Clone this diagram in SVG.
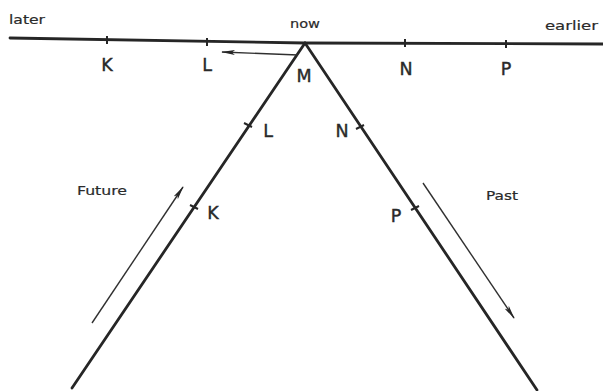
<svg xmlns="http://www.w3.org/2000/svg" width="603" height="391" viewBox="0 0 603 391">
<style>
.main{stroke:#262626;stroke-width:2.8;fill:none;stroke-linecap:round}
.tick{stroke:#262626;stroke-width:2;fill:none}
.arr{stroke:#303030;stroke-width:1.4;fill:none}
.lbl{font-family:"DejaVu Sans",Arial,sans-serif;font-size:17.5px;fill:#2a2a2a;stroke:#2a2a2a;stroke-width:0.4;text-anchor:middle}
.word{font-family:"DejaVu Sans",Arial,sans-serif;font-size:12.5px;fill:#2a2a2a;stroke:#2a2a2a;stroke-width:0.2}
</style>
<defs>
<marker id="ah" markerWidth="14" markerHeight="6" refX="13" refY="3" orient="auto" markerUnits="userSpaceOnUse">
<path d="M0,0.5 L14,3 L0,5.5 L3,3 Z" fill="#262626"/>
</marker>
</defs>
<rect width="603" height="391" fill="#fff"/>
<g id="timeline">
<polyline class="main" points="10,38 305,43 603,44"/>
<line class="tick" x1="107" y1="36" x2="107" y2="44"/>
<line class="tick" x1="207" y1="38" x2="207" y2="46"/>
<line class="tick" x1="405" y1="39" x2="405" y2="47"/>
<line class="tick" x1="506" y1="40" x2="506" y2="48"/>
</g>
<g id="future-line">
<line class="main" x1="305" y1="43" x2="72" y2="388"/>
<line class="tick" x1="244" y1="123" x2="252" y2="127"/>
<line class="tick" x1="190" y1="205" x2="198" y2="209"/>
</g>
<g id="past-line">
<line class="main" x1="305" y1="43" x2="537" y2="390"/>
<line class="tick" x1="356" y1="129" x2="364" y2="125"/>
<line class="tick" x1="411" y1="210" x2="419" y2="206"/>
</g>
<g id="connectors">
<line class="arr" x1="298" y1="55" x2="222" y2="52" marker-end="url(#ah)"/>
<line class="arr" x1="92" y1="323" x2="183" y2="187" marker-end="url(#ah)"/>
<line class="arr" x1="423" y1="183" x2="514" y2="318" marker-end="url(#ah)"/>
</g>
<g id="labels">
<text class="word" x="9" y="24" textLength="36" lengthAdjust="spacingAndGlyphs">later</text>
<text class="word" x="290" y="28" textLength="30" lengthAdjust="spacingAndGlyphs">now</text>
<text class="word" x="545" y="30" textLength="53" lengthAdjust="spacingAndGlyphs">earlier</text>
<text class="word" x="77" y="195" textLength="50" lengthAdjust="spacingAndGlyphs">Future</text>
<text class="word" x="486" y="200" textLength="32" lengthAdjust="spacingAndGlyphs">Past</text>
<text class="lbl" x="107" y="71">K</text>
<text class="lbl" x="207" y="71">L</text>
<text class="lbl" x="304" y="82">M</text>
<text class="lbl" x="406" y="75">N</text>
<text class="lbl" x="506" y="75">P</text>
<text class="lbl" x="268" y="137">L</text>
<text class="lbl" x="342" y="137">N</text>
<text class="lbl" x="213" y="219">K</text>
<text class="lbl" x="396" y="222">P</text>
</g>
</svg>
